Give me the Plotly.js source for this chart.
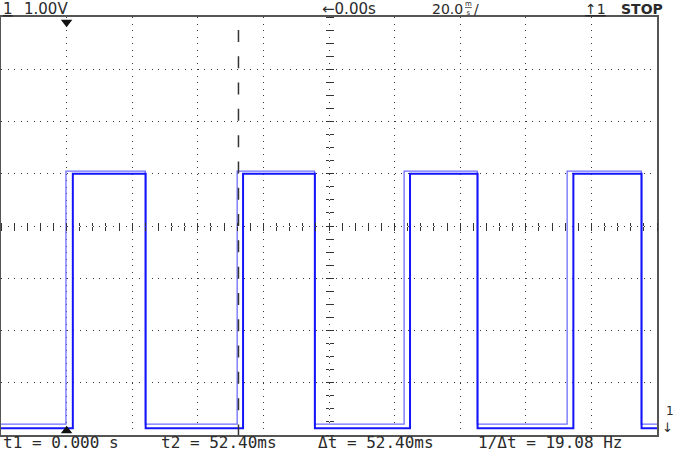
<!DOCTYPE html>
<html>
<head>
<meta charset="utf-8">
<script src="https://cdn.plot.ly/plotly-3.0.1.min.js"></script>
<style>
  html, body { margin: 0; padding: 0; background: #ffffff; }
  #chart { width: 674px; height: 452px; }
</style>
</head>
<body>
<div id="chart"></div>
<script>
// ---- data (time in ms, amplitude in volts / divisions) ----
const timeRangeMs = [-20, 180];
const voltRange = [0, 8];
// lighter (persistence) trace: step edges
const tLight = [-20, -0.2, 24.0, 52.0, 75.6, 102.9, 125.2, 152.6, 175.2, 180];
const vLight = [0.21, 5.05, 0.21, 5.05, 0.21, 5.05, 0.21, 5.05, 0.21, 0.21];
// main trace: step edges
const tMain = [-20, 1.9, 24.1, 53.8, 75.7, 104.7, 125.3, 154.5, 175.3, 180];
const vMain = [0.13, 5.0, 0.13, 5.0, 0.13, 5.0, 0.13, 5.0, 0.13, 0.13];
// cursors / trigger
const cursorT1 = 0.0;
const cursorT2 = 52.4;
const triggerT = 0.0;
// header / footer labels
const headerChannel = "1";
const headerScale = "1.00V";
const headerDelay = "←0.00s";
const headerTimebase = "20.0";
const headerUnitTop = "m";
const headerUnitBottom = "s";
const headerTrig = "↑1";
const headerState = "STOP";
const footerLabels = ["t1 = 0.000 s", "t2 = 52.40ms", "Δt = 52.40ms", "1/Δt = 19.08 Hz"];
const groundLabel = "1";

const txtColor = "#2a2a2a";
const gridColor = "#3a3a3a";

const traces = [
  { x: tLight, y: vLight, type: "scatter", mode: "lines",
    line: { shape: "hv", color: "rgb(110,110,255)", width: 1.3 },
    hoverinfo: "skip", showlegend: false },
  { x: tMain, y: vMain, type: "scatter", mode: "lines",
    line: { shape: "hv", color: "rgb(20,20,250)", width: 2 },
    hoverinfo: "skip", showlegend: false },
  { x: [triggerT], y: [7.9], type: "scatter", mode: "markers",
    marker: { symbol: "triangle-down", size: 10, color: "#111" },
    cliponaxis: false, hoverinfo: "skip", showlegend: false },
  { x: [cursorT1], y: [0.08], type: "scatter", mode: "markers",
    marker: { symbol: "triangle-up", size: 10, color: "#111" },
    cliponaxis: false, hoverinfo: "skip", showlegend: false },
  { x: [], y: [], xaxis: "x2", yaxis: "y2", type: "scatter", hoverinfo: "skip", showlegend: false },
  { x: [], y: [], xaxis: "x3", yaxis: "y3", type: "scatter", hoverinfo: "skip", showlegend: false }
];

const baseAx = {
  showticklabels: false, zeroline: false, fixedrange: true
};

const centerTickX = Object.assign({}, baseAx, {
  overlaying: "x", anchor: "free", position: 0.5, range: timeRangeMs,
  tickmode: "linear", tick0: 0, dtick: 4, ticks: "outside", ticklen: 3.5,
  tickwidth: 1, tickcolor: "#333", showgrid: false, showline: false
});
const centerTickY = Object.assign({}, baseAx, {
  overlaying: "y", anchor: "free", position: 0.5, range: voltRange,
  tickmode: "linear", tick0: 0, dtick: 0.25, ticks: "outside", ticklen: 3.5,
  tickwidth: 1, tickcolor: "#333", showgrid: false, showline: false
});

function ann(text, x, y, size, family, extra) {
  return Object.assign({
    text: text, x: x, y: y, xref: "paper", yref: "paper",
    xanchor: "left", yanchor: "middle", showarrow: false, borderpad: 0,
    font: { size: size, family: family, color: txtColor }
  }, extra || {});
}

const topY = 1.020;
const botY = -0.0175;
const annotations = [
  ann("<u>" + headerChannel + "</u>", 0.0015, topY, 15, "DejaVu Sans"),
  ann(headerScale, 0.034, topY, 15, "DejaVu Sans"),
  ann(headerDelay, 0.488, topY, 15, "DejaVu Sans"),
  ann(headerTimebase, 0.655, topY, 14, "DejaVu Sans"),
  ann("<u>" + headerUnitTop + "</u><br>" + headerUnitBottom, 0.7065, 1.0195, 7, "DejaVu Sans"),
  ann("/", 0.7195, topY, 14, "DejaVu Sans"),
  ann("<u>" + headerTrig + "</u>", 0.889, topY, 14, "DejaVu Sans"),
  ann("<b>" + headerState + "</b>", 0.944, topY, 14, "DejaVu Sans"),
  ann(footerLabels[0], 0.0015, botY, 16, "DejaVu Sans Mono"),
  ann(footerLabels[1], 0.2424, botY, 16, "DejaVu Sans Mono"),
  ann(footerLabels[2], 0.4817, botY, 16, "DejaVu Sans Mono"),
  ann(footerLabels[3], 0.7256, botY, 16, "DejaVu Sans Mono"),
  ann(groundLabel, 1.0115, 0.058, 12, "DejaVu Sans"),
  ann("↓", 1.0065, 0.018, 13, "DejaVu Sans")
];

const layout = {
  width: 674, height: 452,
  margin: { l: 1, r: 17, t: 17, b: 17, pad: 0 },
  paper_bgcolor: "#ffffff", plot_bgcolor: "#ffffff",
  showlegend: false,
  xaxis: Object.assign({}, baseAx, {
    range: timeRangeMs, tickmode: "linear", tick0: 0, dtick: 20, ticks: "",
    showgrid: true, gridcolor: gridColor, gridwidth: 1, griddash: "1px,5.53px",
    showline: true, mirror: true, linecolor: "#555", linewidth: 2
  }),
  yaxis: Object.assign({}, baseAx, {
    range: voltRange, tickmode: "linear", tick0: 0, dtick: 1, ticks: "",
    showgrid: true, gridcolor: gridColor, gridwidth: 1, griddash: "1px,5.56px",
    showline: true, mirror: true, linecolor: "#555", linewidth: 2
  }),
  xaxis2: Object.assign({}, centerTickX, { side: "bottom" }),
  xaxis3: Object.assign({}, centerTickX, { side: "top" }),
  yaxis2: Object.assign({}, centerTickY, { side: "left" }),
  yaxis3: Object.assign({}, centerTickY, { side: "right" }),
  shapes: [
    { type: "line", xref: "x", yref: "paper", x0: cursorT2, x1: cursorT2, y0: 0.969, y1: 0,
      line: { color: "#333", width: 1.5, dash: "12px,14.3px" }, layer: "above" }
  ],
  annotations: annotations
};

Plotly.newPlot("chart", traces, layout, { displayModeBar: false, staticPlot: true });
</script>
</body>
</html>
